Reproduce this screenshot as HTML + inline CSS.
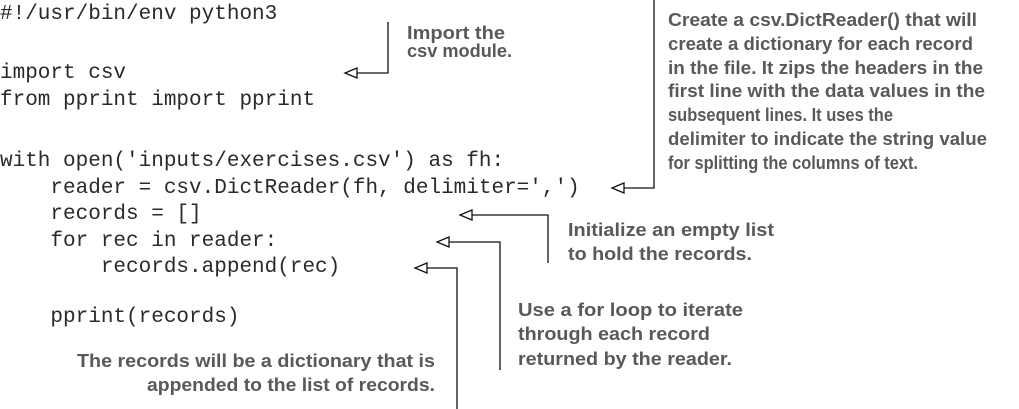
<!DOCTYPE html>
<html><head><meta charset="utf-8"><style>
html,body{margin:0;padding:0;background:#fff;width:1019px;height:409px;overflow:hidden}
svg{display:block}
.c{font-family:"Liberation Mono",monospace;font-size:21px;fill:#2a2a2a}
.a{font-family:"Liberation Sans",sans-serif;font-weight:bold;font-size:18px;fill:#595959}
</style></head><body>
<svg width="1019" height="409" viewBox="0 0 1019 409">
<g class="c">
<text x="0" y="19">#!/usr/bin/env python3</text>
<text x="0" y="78">import csv</text>
<text x="0" y="105">from pprint import pprint</text>
<text x="0" y="166">with open('inputs/exercises.csv') as fh:</text>
<text x="0" y="193" xml:space="preserve">    reader = csv.DictReader(fh, delimiter=',')</text>
<text x="0" y="219" xml:space="preserve">    records = []</text>
<text x="0" y="246" xml:space="preserve">    for rec in reader:</text>
<text x="0" y="272" xml:space="preserve">        records.append(rec)</text>
<text x="0" y="322" xml:space="preserve">    pprint(records)</text>
</g>
<g fill="#fff" stroke="#111" stroke-width="1.3">
<polyline points="388,22 388,73 357,73"/><polygon points="345,73 357,68 357,78"/>
<polyline points="654,0 654,188 624,188"/><polygon points="612,188 624,183 624,193"/>
<polyline points="548,263 548,215 472,215"/><polygon points="460,215 472,210 472,220"/>
<polyline points="500,370 500,242 449,242"/><polygon points="437,242 449,237 449,247"/>
<polyline points="457,409 457,268 427,268"/><polygon points="415,268 427,263 427,273"/>
</g>
<g class="a">
<text x="407" y="39" textLength="98" lengthAdjust="spacingAndGlyphs">Import the</text>
<text x="407" y="57" textLength="105" lengthAdjust="spacingAndGlyphs">csv module.</text>
<text x="668" y="26" textLength="309" lengthAdjust="spacingAndGlyphs">Create a csv.DictReader() that will</text>
<text x="668" y="50" textLength="305" lengthAdjust="spacingAndGlyphs">create a dictionary for each record</text>
<text x="668" y="74" textLength="315" lengthAdjust="spacingAndGlyphs">in the file. It zips the headers in the</text>
<text x="668" y="97" textLength="317" lengthAdjust="spacingAndGlyphs">first line with the data values in the</text>
<text x="668" y="121" textLength="225" lengthAdjust="spacingAndGlyphs">subsequent lines. It uses the</text>
<text x="668" y="145" textLength="319" lengthAdjust="spacingAndGlyphs">delimiter to indicate the string value</text>
<text x="668" y="169" textLength="250" lengthAdjust="spacingAndGlyphs">for splitting the columns of text.</text>
<text x="568" y="236" textLength="206" lengthAdjust="spacingAndGlyphs">Initialize an empty list</text>
<text x="568" y="260" textLength="184" lengthAdjust="spacingAndGlyphs">to hold the records.</text>
<text x="518" y="316" textLength="225" lengthAdjust="spacingAndGlyphs">Use a for loop to iterate</text>
<text x="518" y="340" textLength="192" lengthAdjust="spacingAndGlyphs">through each record</text>
<text x="518" y="365" textLength="214" lengthAdjust="spacingAndGlyphs">returned by the reader.</text>
<text x="77" y="367" textLength="358" lengthAdjust="spacingAndGlyphs">The records will be a dictionary that is</text>
<text x="147" y="391" textLength="288" lengthAdjust="spacingAndGlyphs">appended to the list of records.</text>
</g>
</svg>
</body></html>
